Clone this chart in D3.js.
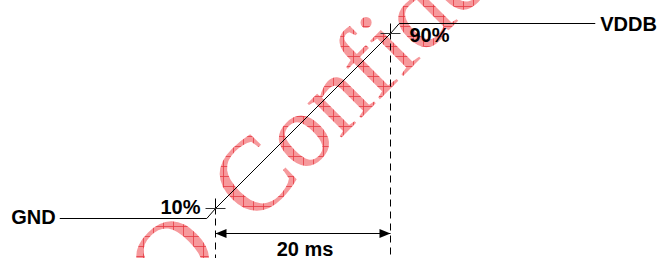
<!DOCTYPE html>
<html>
<head>
<meta charset="utf-8">
<script src="https://cdn.jsdelivr.net/npm/d3@7"></script>
<style>
body{margin:0;background:#fff;}
svg{display:block;}
.lbl{font-family:"Liberation Sans",Arial,sans-serif;font-weight:bold;font-size:20px;fill:#000;}
</style>
</head>
<body>
<div id="chart"></div>
<script>
// rail names, marker levels (% of VDDB), waveform (t in ms, v in %)
var levelNames = ["GND", "VDDB"];
var markLevels = [10, 90];
var markLabels = ["10%", "90%"];
var markTimes = [0, 20];
var waveT = [-17.8, -1.0, 0, 20, 21.0, 43.4];
var waveV = [0, 0, 10, 90, 100, 100];
var riseLabel = "20 ms";
var watermark = ["O", "Confidential"];

var w = 659, h = 258;
var svg = d3.select("#chart").append("svg").attr("width", w).attr("height", h);

// schematic: time is linear, level axis is squeezed near the rails
var x = d3.scaleLinear().domain([0, 20]).range([215.5, 390.5]);
var y = d3.scaleLinear().domain([0, 10, 90, 100]).range([218.5, 208.5, 33.5, 23.5]);

// hatch fill for the watermark
var defs = svg.append("defs");
var pat = defs.append("pattern")
    .attr("id", "hatch")
    .attr("patternUnits", "userSpaceOnUse")
    .attr("width", 10).attr("height", 10)
    .attr("patternTransform", "rotate(45)");
pat.append("rect").attr("width", 10).attr("height", 10).attr("fill", "#f6999c");
pat.append("path").attr("d", "M0,0.5H10M0.5,0V10")
    .attr("stroke", "#e63a42").attr("stroke-width", 0.8).attr("fill", "none");

var wm = svg.append("g").attr("transform", "translate(253,226) rotate(-45)");
wm.append("text")
    .attr("x", -117)
    .attr("font-family", "'Liberation Serif','Times New Roman',serif")
    .attr("font-size", 105)
    .attr("fill", "url(#hatch)")
    .text(watermark[0]);
wm.append("text")
    .attr("x", 0)
    .attr("font-family", "'Liberation Serif','Times New Roman',serif")
    .attr("font-size", 105)
    .attr("fill", "url(#hatch)")
    .text(watermark[1]);

// waveform
var pts = waveT.map(function(t, i){ return [x(t), y(waveV[i])]; });
svg.append("path")
    .attr("d", d3.line()(pts))
    .attr("fill", "none")
    .attr("stroke", "#000")
    .attr("stroke-width", 1);

// dashed guides + crosshair marks
markLevels.forEach(function(v, i){
    var cx = x(markTimes[i]), cy = y(v);
    svg.append("line")
        .attr("x1", cx).attr("x2", cx)
        .attr("y1", cy + 10).attr("y2", h)
        .attr("stroke", "#000")
        .attr("stroke-dasharray", "7,5");
    svg.append("line")
        .attr("x1", cx).attr("x2", cx)
        .attr("y1", cy - 10).attr("y2", cy + 6)
        .attr("stroke", "#000");
    svg.append("line")
        .attr("x1", cx - 10).attr("x2", cx + 10)
        .attr("y1", cy).attr("y2", cy)
        .attr("stroke", "#333");
});

// rail labels
svg.append("text").attr("class", "lbl")
    .attr("x", x(waveT[0]) - 4).attr("y", y(0) + 5)
    .attr("text-anchor", "end")
    .text(levelNames[0]);
svg.append("text").attr("class", "lbl")
    .attr("x", x(waveT[waveT.length - 1]) + 5).attr("y", y(100) + 7)
    .text(levelNames[1]);

// percent labels
svg.append("text").attr("class", "lbl")
    .attr("x", x(markTimes[0]) - 15).attr("y", y(markLevels[0]) + 5)
    .attr("text-anchor", "end")
    .text(markLabels[0]);
svg.append("text").attr("class", "lbl")
    .attr("x", x(markTimes[1]) + 19).attr("y", y(markLevels[1]) + 8)
    .text(markLabels[1]);

// dimension arrow
var ay = 233.5, x0 = x(markTimes[0]), x1 = x(markTimes[1]);
svg.append("line")
    .attr("x1", x0).attr("x2", x1)
    .attr("y1", ay).attr("y2", ay)
    .attr("stroke", "#000");
svg.append("path")
    .attr("d", "M" + x0 + "," + ay + "l11,-4.5v9z")
    .attr("fill", "#000");
svg.append("path")
    .attr("d", "M" + x1 + "," + ay + "l-11,-4.5v9z")
    .attr("fill", "#000");
svg.append("text").attr("class", "lbl")
    .attr("x", (x0 + x1) / 2 + 2).attr("y", 256)
    .attr("text-anchor", "middle")
    .text(riseLabel);
</script>
</body>
</html>
